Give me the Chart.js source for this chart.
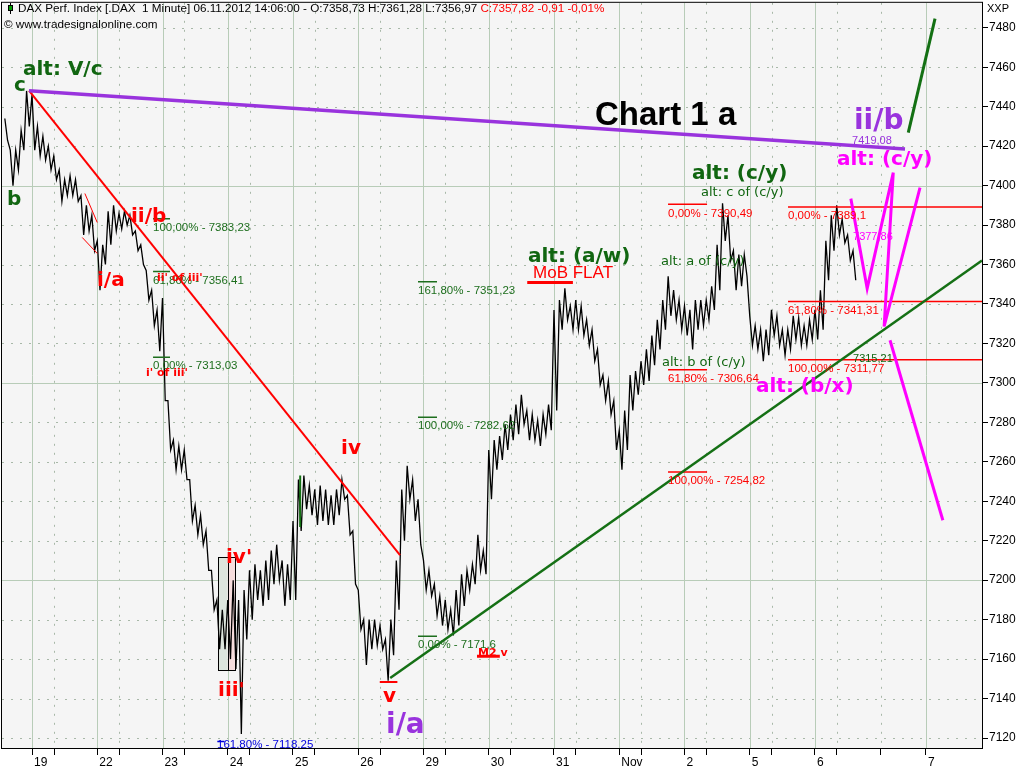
<!DOCTYPE html>
<html><head><meta charset="utf-8">
<script src="https://cdn.jsdelivr.net/npm/chart.js@4.4.0/dist/chart.umd.min.js"></script>
<style>html,body{margin:0;padding:0;background:#fff;overflow:hidden}#wrap{width:1024px;height:768px}</style>
</head><body><div id="wrap"><canvas id="c" width="1024" height="768"></canvas></div>
<script>
// ---------- axes ----------
const sessionLabels = ["19","22","23","24","25","26","29","30","31","Nov","2","5","6","7"];
const sessionTicks = [0,1,2,3,4,5,6,7,8,9,10,11,12,13.70];
const midTicks = [0.337,1.337,2.337,3.337,4.337,5.337,6.337,7.337,8.337,9.337,10.337,11.337,12.337,13.01];
const priceTicks = [7120,7140,7160,7180,7200,7220,7240,7260,7280,7300,7320,7340,7360,7380,7400,7420,7440,7460,7480];

// ---------- price: [high, low] per 1/12 session ----------
const oct18 = [[7434,7423],[7418,7400],[7418,7408],[7428,7418],[7448,7430]];
const oct19 = [[7446,7418],[7430,7415],[7425,7413],[7420,7408],[7415,7403],[7408,7392],[7403,7395],[7405,7395],[7403,7392],[7395,7375],[7390,7377],[7385,7367]];
const oct22 = [[7372,7347],[7370,7360],[7387,7370],[7390,7377],[7386,7378],[7387,7380],[7385,7375],[7377,7367],[7370,7360],[7357,7342],[7347,7329],[7337,7316]];
const oct23 = [[7343,7291],[7291,7266],[7271,7256],[7268,7256],[7266,7251],[7251,7230],[7238,7223],[7233,7218],[7225,7205],[7205,7185],[7190,7165],[7185,7165]];
const oct24 = [[7190,7160],[7200,7155],[7190,7122],[7195,7170],[7205,7180],[7208,7190],[7205,7187],[7210,7190],[7215,7198],[7218,7200],[7210,7187],[7208,7190]];
const oct25 = [[7230,7190],[7251,7225],[7253,7236],[7248,7233],[7246,7228],[7248,7230],[7246,7228],[7243,7228],[7246,7233],[7251,7241],[7243,7223],[7225,7198]];
const oct26 = [[7195,7175],[7180,7157],[7180,7165],[7180,7167],[7177,7165],[7170,7149],[7180,7162],[7210,7185],[7246,7220],[7258,7241],[7251,7230],[7241,7218]];
const oct29 = [[7210,7195],[7205,7192],[7198,7182],[7192,7177],[7190,7175],[7185,7172],[7195,7177],[7203,7187],[7205,7195],[7208,7198],[7223,7205],[7215,7203]];
const oct30 = [[7266,7241],[7271,7256],[7273,7261],[7279,7266],[7284,7271],[7289,7274],[7294,7279],[7286,7271],[7284,7271],[7281,7268],[7284,7274],[7289,7276]];
const oct31 = [[7337,7286],[7342,7327],[7348,7332],[7339,7327],[7342,7327],[7339,7324],[7332,7319],[7327,7311],[7317,7299],[7304,7291],[7301,7284],[7291,7266]];
const nov1  = [[7276,7256],[7286,7266],[7304,7286],[7306,7294],[7311,7299],[7317,7301],[7324,7309],[7332,7317],[7342,7327],[7354,7334],[7347,7332],[7342,7327]];
const nov2  = [[7339,7324],[7337,7317],[7342,7327],[7342,7329],[7342,7332],[7349,7337],[7370,7347],[7391,7372],[7385,7362],[7367,7347],[7365,7349],[7365,7354]];
const nov5  = [[7334,7319],[7329,7317],[7327,7311],[7327,7314],[7337,7324],[7334,7319],[7327,7314],[7327,7317],[7334,7322],[7333,7319],[7329,7319],[7332,7322]];
const nov6  = [[7337,7322],[7347,7327],[7372,7352],[7385,7367],[7390,7375],[7383,7371],[7375,7362],[7367,7352]];
// [session index, first sample slot, samples]
const sessions = [[-1,7,oct18],[0,0,oct19],[1,0,oct22],[2,0,oct23],[3,0,oct24],[4,0,oct25],[5,0,oct26],[6,0,oct29],[7,0,oct30],[8,0,oct31],[9,0,nov1],[10,0,nov2],[11,0,nov5],[12,0,nov6]];

// ---------- drawn lines (session time, price) ----------
const purpleLine = [[-0.046,7448.1],[13.38,7418.5]];
const redTrend = [[-0.046,7448.1],[5.64,7212.7]];
const greenTrend = [[5.49,7150.4],[14.56,7362]];
const greenProj = [[13.43,7426.9],[13.84,7484.6]];
const magentaW = [[12.55,7393.4],[12.80,7347.9],[13.20,7406.6],[13.06,7328.6],[13.61,7399.0]];
const magentaDown = [[13.15,7321.6],[13.96,7230.4]];
const redChan1 = [[0.81,7396],[1.00,7381.3]];
const redChan2 = [[0.77,7373.7],[1.00,7365.6]];
const vMark = [[5.33,7148.4],[5.60,7148.4]];
const mobMark = [[7.59,7350.9],[8.29,7350.9]];
const m2Mark = [[6.82,7161.5],[7.17,7161.5]];
const greenTick = [[4.11,7253],[4.11,7227]];
const blueMark = [[2.84,7118.25],[2.95,7118.25]];
const boxA = [2.85,3.00,7154.5,7211.7];
const boxB = [3.00,3.11,7154.5,7211.7];

// ---------- fibonacci levels ----------
const fibGA = [7383.23,7356.41,7313.03]; const fibGAp = ["100,00%","61,80%","0,00%"];
const fibGB = [7351.23,7282.62,7171.6];  const fibGBp = ["161,80%","100,00%","0,00%"];
const fibRA = [7390.49,7306.64,7254.82]; const fibRAp = ["0,00%","61,80%","100,00%"];
const fibRB = [7389.1,7341.31,7311.77];  const fibRBp = ["0,00%","61,80%","100,00%"];

const GREEN='#116611', RED='#ff0000', MAG='#ff00ff', PURP='#9933dd';
const fibSets = [
  {vals:fibGA, pcts:fibGAp, from:1.855, to:2.115, color:'#1d6e1d'},
  {vals:fibGB, pcts:fibGBp, from:5.916, to:6.207, color:'#1d6e1d'},
  {vals:fibRA, pcts:fibRAp, from:9.748, to:10.346, color:RED},
  {vals:fibRB, pcts:fibRBp, from:11.587, to:14.56, color:RED}
];

const styles = {
  bigG:{f:'bold 20px "DejaVu Sans"',c:GREEN}, bigR:{f:'bold 20px "DejaVu Sans"',c:RED},
  bigM:{f:'bold 20px "DejaVu Sans"',c:MAG}, hugeP:{f:'bold 28px "DejaVu Sans"',c:PURP},
  chart:{f:'bold 33px "Liberation Sans"',c:'#000'}, smallG:{f:'13px "DejaVu Sans"',c:GREEN},
  tinyR:{f:'bold 11px "DejaVu Sans"',c:RED}, mob:{f:'17px "Liberation Sans"',c:RED},
  numP:{f:'11px "Liberation Sans"',c:PURP}, numM:{f:'11px "Liberation Sans"',c:MAG},
  numG:{f:'11px "Liberation Sans"',c:GREEN}, numB:{f:'11.5px "Liberation Sans"',c:'#0000dd'}
};
const notes = [
  ['alt: V/c',-0.138,7458.7,'bigG'],['c',-0.276,7450.6,'bigG'],['b',-0.383,7392.9,'bigG'],
  ['ii/b',1.517,7384.3,'bigR'],['i/a',0.996,7352,'bigR'],
  ["ii' of iii'",1.916,7352.9,'tinyR'],["i' of iii'",1.747,7304.8,'tinyR'],
  ['iv',4.736,7266.8,'bigR'],["iv'",2.973,7211.1,'bigR'],["iii'",2.851,7143.8,'bigR'],
  ['v',5.380,7140.8,'bigR'],['i/a',5.426,7126.1,'hugeP'],
  ['alt: (a/w)',7.602,7364.1,'bigG'],['MoB FLAT',7.679,7355.5,'mob'],
  ['alt: (c/y)',10.115,7406.1,'bigG'],['alt: c of (c/y)',10.253,7396.5,'smallG'],
  ['alt: a of (c/y)',9.640,7361.5,'smallG'],['alt: b of (c/y)',9.656,7310.4,'smallG'],
  ['alt: (b/x)',11.096,7298.2,'bigM'],['alt: (c/y)',12.338,7413.2,'bigM'],
  ['ii/b',12.598,7432.4,'hugeP'],['7419,08',12.568,7422.8,'numP'],
  ['Chart 1 a',8.629,7435.4,'chart'],['7377,86',12.583,7374.2,'numM'],
  ['7315,21',12.583,7311.9,'numG'],['M2 v',6.836,7163.1,'tinyR'],
  ['161,80% - 7118,25',2.835,7116.5,'numB']
];

// ---------- build datasets ----------
const pricePts = [];
sessions.forEach(([s,k0,arr])=>arr.forEach(([hi,lo],k)=>{
  const t = s + (k0+k)/12;
  pricePts.push({x:t,y:hi},{x:t+1/24,y:lo});
}));
function seg(pts,color,w){return {data:pts.map(([x,y])=>({x,y})),borderColor:color,borderWidth:w,pointRadius:0,fill:false,tension:0,order:0,borderCapStyle:'butt'};}
const datasets = [
  seg(magentaW,MAG,3), seg(magentaDown,MAG,3), seg(greenProj,'#137013',3),
  seg(purpleLine,PURP,3.5), seg(redTrend,RED,2), seg(greenTrend,'#157015',2.5),
  seg(redChan1,RED,1), seg(redChan2,RED,1), seg(vMark,RED,2), seg(mobMark,RED,3), seg(m2Mark,RED,3),
  seg(greenTick,'#137013',2), seg(blueMark,'#0000dd',1.5)
];
fibSets.forEach(fs=>fs.vals.forEach(v=>datasets.push(seg([[fs.from,v],[fs.to,v]],fs.color,1.5))));
datasets.push({data:pricePts,borderColor:'#000',borderWidth:1.3,pointRadius:0,fill:false,tension:0,order:10});

const fmt = v => String(v).replace('.',',');

const deco = {
  id:'deco',
  beforeDatasetsDraw(chart){
    const {ctx,chartArea:a,scales:{x,y}} = chart;
    ctx.save();
    ctx.fillStyle='#f5f5f5'; ctx.fillRect(a.left,a.top,a.right-a.left,a.bottom-a.top);
    ctx.beginPath(); ctx.rect(a.left,a.top,a.right-a.left,a.bottom-a.top); ctx.clip();
    ctx.lineWidth=1;
    ctx.strokeStyle='#a8b8a8'; ctx.setLineDash([2,7]);
    priceTicks.filter(v=>v%100!==0).forEach(v=>{const p=Math.round(y.getPixelForValue(v))+0.5;ctx.beginPath();ctx.moveTo(a.left,p);ctx.lineTo(a.right,p);ctx.stroke();});
    midTicks.forEach(v=>{const p=Math.round(x.getPixelForValue(v))+0.5;ctx.beginPath();ctx.moveTo(p,a.top);ctx.lineTo(p,a.bottom);ctx.stroke();});
    ctx.setLineDash([]); ctx.strokeStyle='#b8ccb8';
    priceTicks.filter(v=>v%100===0).forEach(v=>{const p=Math.round(y.getPixelForValue(v))+0.5;ctx.beginPath();ctx.moveTo(a.left,p);ctx.lineTo(a.right,p);ctx.stroke();});
    sessionTicks.forEach(v=>{const p=Math.round(x.getPixelForValue(v))+0.5;ctx.beginPath();ctx.moveTo(p,a.top);ctx.lineTo(p,a.bottom);ctx.stroke();});
    [[boxA,'#dde5dd'],[boxB,'#f6dddd']].forEach(([b,c])=>{
      const x0=x.getPixelForValue(b[0]),x1=x.getPixelForValue(b[1]),y0=y.getPixelForValue(b[3]),y1=y.getPixelForValue(b[2]);
      ctx.fillStyle=c; ctx.fillRect(x0,y0,x1-x0,y1-y0);
    });
    ctx.restore();
  },
  afterDatasetsDraw(chart){
    const {ctx,chartArea:a,scales:{x,y}} = chart;
    ctx.save();
    ctx.strokeStyle='#000'; ctx.lineWidth=1;
    [boxA,boxB].forEach(b=>{
      const x0=Math.round(x.getPixelForValue(b[0]))+0.5,x1=Math.round(x.getPixelForValue(b[1]))+0.5,y0=Math.round(y.getPixelForValue(b[3]))+0.5,y1=Math.round(y.getPixelForValue(b[2]))+0.5;
      ctx.strokeRect(x0,y0,x1-x0,y1-y0);
    });
    ctx.beginPath(); ctx.rect(a.left,a.top,a.right-a.left,a.bottom-a.top); ctx.clip();
    ctx.textBaseline='middle'; ctx.textAlign='left';
    ctx.font='11.5px "Liberation Sans"';
    fibSets.forEach(fs=>fs.vals.forEach((v,i)=>{
      ctx.fillStyle=fs.color;
      ctx.fillText(fs.pcts[i]+' - '+fmt(v), x.getPixelForValue(fs.from), y.getPixelForValue(v)+9);
    }));
    notes.forEach(([t,d,v,s])=>{ctx.font=styles[s].f;ctx.fillStyle=styles[s].c;ctx.fillText(t,x.getPixelForValue(d),y.getPixelForValue(v));});
    ctx.restore();
    // title (page chrome)
    ctx.save();
    ctx.textBaseline='middle'; ctx.textAlign='left';
    ctx.fillStyle='#000'; ctx.fillRect(10,3,1,11);
    ctx.fillStyle='#009900'; ctx.fillRect(8,5,5,6); ctx.strokeStyle='#000'; ctx.lineWidth=1; ctx.strokeRect(8.5,5.5,4,5);
    ctx.font='11.7px "Liberation Sans"';
    const t1='DAX Perf. Index [.DAX  1 Minute] 06.11.2012 14:06:00 - O:7358,73 H:7361,28 L:7356,97 ';
    ctx.fillStyle='#000'; ctx.fillText(t1,18,9);
    const w=ctx.measureText(t1).width;
    ctx.fillStyle=RED; ctx.fillText('C:7357,82 -0,91 -0,01%',18+w,9);
    ctx.fillStyle='#000'; ctx.fillText('\u00a9 www.tradesignalonline.com',4,25);
    ctx.restore();
  },
  afterDraw(chart){
    const {ctx,chartArea:a} = chart;
    ctx.save();
    ctx.strokeStyle='#000'; ctx.lineWidth=1;
    ctx.strokeRect(a.left-0.5,a.top-0.5,a.right-a.left+1,a.bottom-a.top+1);
    ctx.fillStyle='#000'; ctx.font='11px "Liberation Sans"'; ctx.textBaseline='middle'; ctx.textAlign='left';
    ctx.fillText('XXP',987,9);
    ctx.restore();
  }
};

new Chart(document.getElementById('c'),{
  type:'line',
  data:{datasets},
  options:{
    responsive:false, animation:false, devicePixelRatio:1,
    layout:{padding:{left:2,top:2,right:0,bottom:0},autoPadding:false},
    plugins:{legend:{display:false},tooltip:{enabled:false}},
    scales:{
      x:{type:'linear',min:-0.46,max:14.56,
        afterBuildTicks:s=>{s.ticks=[...sessionTicks,...midTicks].sort((a,b)=>a-b).map(v=>({value:v}));},
        afterFit:s=>{s.height=20;},
        grid:{drawOnChartArea:false,drawTicks:true,tickLength:7,tickColor:'#000',color:'#000'},
        border:{display:false},
        ticks:{autoSkip:false,maxRotation:0,minRotation:0,align:'start',labelOffset:2,padding:0,color:'#000',
          font:{family:'Liberation Sans',size:12},
          callback:(v)=>{const i=sessionTicks.indexOf(v);return i>=0?sessionLabels[i]:'';}}
      },
      y:{type:'linear',position:'right',min:7114.94,max:7492.66,
        afterBuildTicks:s=>{s.ticks=priceTicks.map(v=>({value:v}));},
        afterFit:s=>{s.width=42;},
        grid:{drawOnChartArea:false,drawTicks:true,tickLength:6,tickColor:'#000'},
        border:{display:false},
        ticks:{padding:1,color:'#000',font:{family:'Liberation Sans',size:12,lineHeight:0.3},callback:v=>String(v)}
      }
    }
  },
  plugins:[deco]
});
</script></body></html>
